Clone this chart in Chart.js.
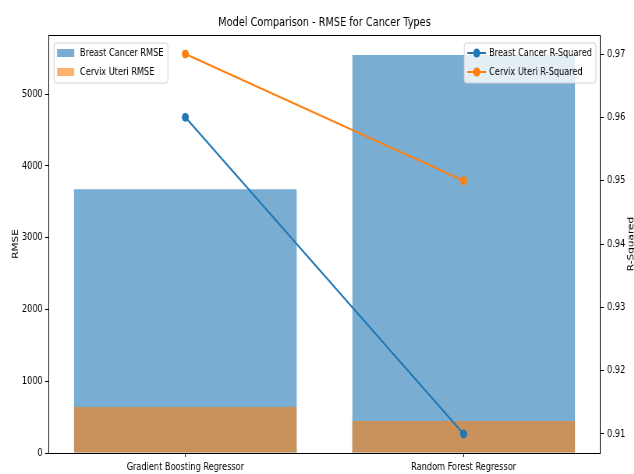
<!DOCTYPE html>
<html>
<head>
<meta charset="utf-8">
<title>Model Comparison - RMSE for Cancer Types</title>
<script src="https://cdn.jsdelivr.net/npm/chart.js@4.4.1/dist/chart.umd.min.js"></script>
<style>
  html, body { margin: 0; padding: 0; background: #fff; overflow: hidden; }
  /* the reference picture is squeezed sideways, so draw wide and squeeze it */
  #wrap {
    position: absolute; left: 0; top: 0;
    width: 813px; height: 474px;
    transform: scaleX(0.78); transform-origin: 0 0;
  }
</style>
</head>
<body>
<div id="wrap"><canvas id="chart"></canvas></div>
<script>
const models = ["Gradient Boosting Regressor", "Random Forest Regressor"];
const breastRmse = [3673, 5545];
const cervixRmse = [642, 447];
const breastR2 = [0.96, 0.91];
const cervixR2 = [0.97, 0.95];
const rmseTicks = [0, 1000, 2000, 3000, 4000, 5000];
const r2Ticks = [0.91, 0.92, 0.93, 0.94, 0.95, 0.96, 0.97];

const FONT = "DejaVu Sans";
const BLUE = "#1f77b4";
const ORANGE = "#ff7f0e";
const BLUE_BAR = "rgba(31, 119, 180, 0.6)";
const ORANGE_BAR = "rgba(255, 127, 14, 0.6)";

// limits like matplotlib's 5% margins
const rmseMax = Math.max(...breastRmse, ...cervixRmse) * 1.05;
const r2Lo = Math.min(...breastR2, ...cervixR2);
const r2Hi = Math.max(...breastR2, ...cervixR2);
const r2Pad = (r2Hi - r2Lo) * 0.05;
const xPad = (models.length - 1 + 0.8) * 0.05;
const xMin = -0.4 - xPad;
const xMax = models.length - 1 + 0.4 + xPad;

const pts = (arr) => arr.map((v, i) => ({ x: i, y: v }));

// frame top, both legends and the clipped right axis title
const extras = {
  id: "extras",
  afterDraw(chart) {
    const { ctx, chartArea: ca } = chart;
    ctx.save();
    ctx.strokeStyle = "#000";
    ctx.lineWidth = 1;
    ctx.beginPath();
    ctx.moveTo(ca.left, ca.top + 0.5);
    ctx.lineTo(ca.right, ca.top + 0.5);
    ctx.stroke();

    ctx.font = `10.5px "${FONT}"`;
    ctx.textBaseline = "middle";
    ctx.textAlign = "left";

    const box = (x, y, w, h) => {
      ctx.beginPath();
      ctx.roundRect(x, y, w, h, 3);
      ctx.fillStyle = "rgba(255,255,255,0.8)";
      ctx.fill();
      ctx.strokeStyle = "#d0d0d0";
      ctx.lineWidth = 1;
      ctx.stroke();
    };

    // bars legend, top left
    const lx = ca.left + 6.4, ly = ca.top + 8;
    box(lx, ly, 146, 40);
    [["Breast Cancer RMSE", BLUE_BAR], ["Cervix Uteri RMSE", ORANGE_BAR]].forEach(([t, c], i) => {
      const cy = ly + 10 + i * 19;
      ctx.fillStyle = c;
      ctx.fillRect(lx + 4, cy - 4, 22, 8);
      ctx.fillStyle = "#000";
      ctx.fillText(t, lx + 33.4, cy);
    });

    // lines legend, top right
    const rw = 169;
    const rx = ca.right - 5.1 - rw, ry = ca.top + 8;
    box(rx, ry, rw, 40);
    [["Breast Cancer R-Squared", BLUE], ["Cervix Uteri R-Squared", ORANGE]].forEach(([t, c], i) => {
      const cy = ry + 10 + i * 19;
      ctx.strokeStyle = c;
      ctx.lineWidth = 2;
      ctx.beginPath();
      ctx.moveTo(rx + 4, cy);
      ctx.lineTo(rx + 28, cy);
      ctx.stroke();
      ctx.fillStyle = c;
      ctx.beginPath();
      ctx.arc(rx + 16, cy, 4.5, 0, Math.PI * 2);
      ctx.fill();
      ctx.fillStyle = "#000";
      ctx.fillText(t, rx + 32, cy);
    });

    // right axis title, reads bottom to top like matplotlib (cut by the edge)
    ctx.translate(812, (ca.top + ca.bottom) / 2);
    ctx.rotate(-Math.PI / 2);
    ctx.textAlign = "center";
    ctx.textBaseline = "alphabetic";
    ctx.fillStyle = "#000";
    ctx.fillText("R-Squared", 0, 0);
    ctx.restore();
  },
};

const tickFont = { family: FONT, size: 10.5 };

new Chart(document.getElementById("chart"), {
  data: {
    datasets: [
      {
        type: "bar",
        label: "Breast Cancer RMSE",
        data: pts(breastRmse),
        backgroundColor: BLUE_BAR,
        yAxisID: "y",
        grouped: false,
        categoryPercentage: 1,
        barPercentage: 0.8,
        order: 3,
      },
      {
        type: "bar",
        label: "Cervix Uteri RMSE",
        data: pts(cervixRmse),
        backgroundColor: ORANGE_BAR,
        yAxisID: "y",
        grouped: false,
        categoryPercentage: 1,
        barPercentage: 0.8,
        order: 2,
      },
      {
        type: "line",
        label: "Breast Cancer R-Squared",
        data: pts(breastR2),
        borderColor: BLUE,
        backgroundColor: BLUE,
        borderWidth: 2,
        pointRadius: 4,
        pointBorderWidth: 1,
        yAxisID: "y1",
        order: 1,
      },
      {
        type: "line",
        label: "Cervix Uteri R-Squared",
        data: pts(cervixR2),
        borderColor: ORANGE,
        backgroundColor: ORANGE,
        borderWidth: 2,
        pointRadius: 4,
        pointBorderWidth: 1,
        yAxisID: "y1",
        order: 0,
      },
    ],
  },
  options: {
    responsive: true,
    maintainAspectRatio: false,
    animation: false,
    layout: { padding: 0 },
    plugins: {
      legend: { display: false },
      tooltip: { enabled: false },
      title: {
        display: true,
        text: "Model Comparison - RMSE for Cancer Types",
        fullSize: false,
        color: "#000",
        font: { family: FONT, size: 12.5, weight: "normal" },
        padding: { top: 15, bottom: 5 },
      },
    },
    scales: {
      x: {
        type: "linear",
        min: xMin,
        max: xMax,
        offset: false,
        afterBuildTicks: (s) => { s.ticks = models.map((_, i) => ({ value: i })); },
        afterFit: (s) => { s.height = 21; },
        ticks: {
          callback: (v) => models[v],
          font: tickFont,
          color: "#000",
          padding: 4,
          autoSkip: false,
          maxRotation: 0,
        },
        grid: { offset: false, drawOnChartArea: false, tickLength: 4, tickColor: "#000" },
        border: { color: "#000", width: 1 },
      },
      y: {
        type: "linear",
        position: "left",
        min: 0,
        max: rmseMax,
        afterBuildTicks: (s) => { s.ticks = rmseTicks.map((v) => ({ value: v })); },
        afterFit: (s) => { s.width = 62.8; },
        ticks: { font: tickFont, color: "#000", padding: 3, callback: (v) => String(v) },
        grid: { drawOnChartArea: false, tickLength: 5, tickColor: "#000" },
        border: { color: "#000", width: 1 },
        title: {
          display: true,
          text: "RMSE",
          color: "#000",
          font: tickFont,
          padding: { top: 14, bottom: 0 },
        },
      },
      y1: {
        type: "linear",
        position: "right",
        min: r2Lo - r2Pad,
        max: r2Hi + r2Pad,
        afterBuildTicks: (s) => { s.ticks = r2Ticks.map((v) => ({ value: v })); },
        afterFit: (s) => { s.width = 43.8; },
        ticks: { font: tickFont, color: "#000", padding: 4, callback: (v) => v.toFixed(2) },
        grid: { drawOnChartArea: false, tickLength: 5, tickColor: "#000" },
        border: { color: "#000", width: 1 },
      },
    },
  },
  plugins: [extras],
});
</script>
</body>
</html>
